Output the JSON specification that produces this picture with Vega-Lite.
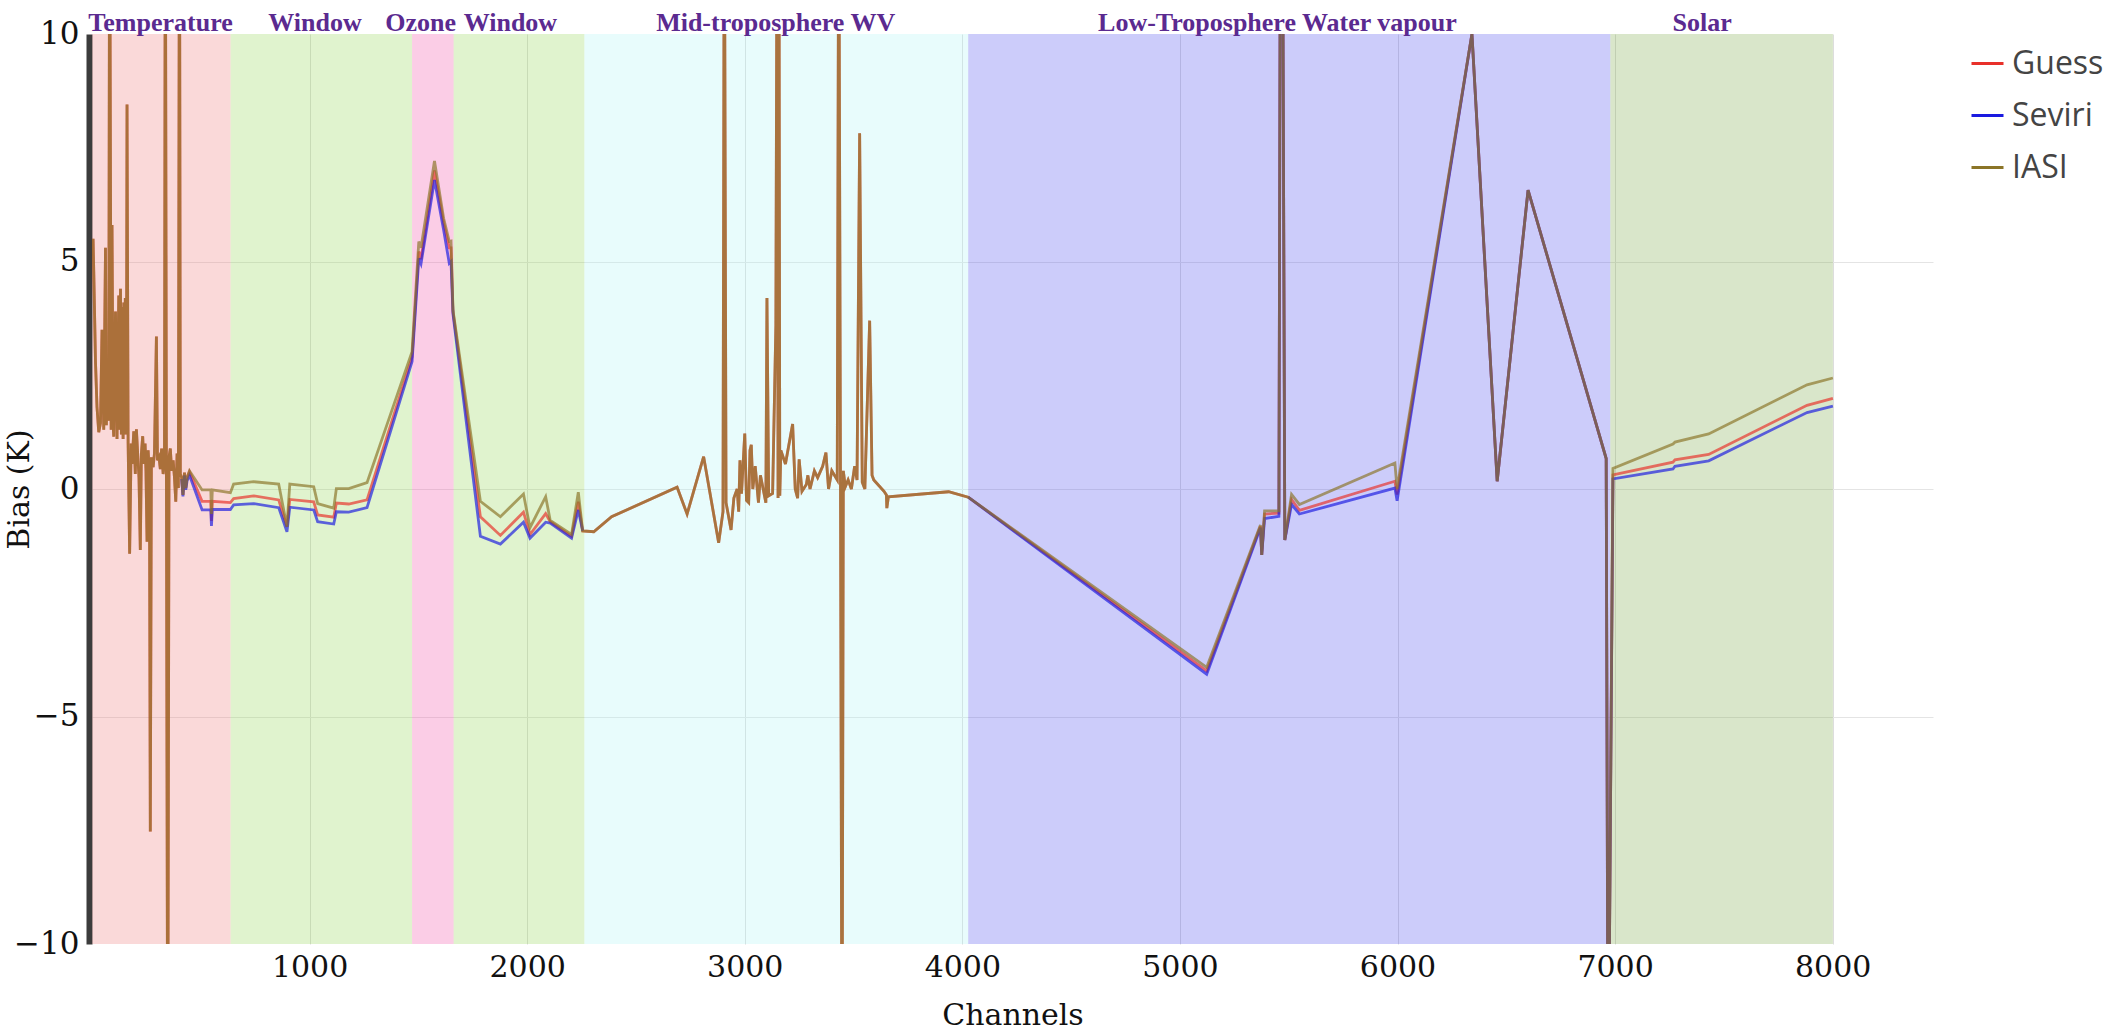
{
  "$schema": "https://vega.github.io/schema/vega-lite/v6.json",
  "autosize": {"type": "none"},
  "padding": {"left": 92, "top": 34, "right": 175, "bottom": 87},
  "width": 1841,
  "height": 910,
  "background": "white",
  "datasets": {
    "regions": [
      {"region": "Temperature", "start": 1, "end": 637},
      {"region": "Window", "start": 637, "end": 1471},
      {"region": "Ozone", "start": 1471, "end": 1662},
      {"region": "Window2", "start": 1662, "end": 2263},
      {"region": "Mid", "start": 2263, "end": 4027},
      {"region": "Low", "start": 4027, "end": 6978},
      {"region": "Solar", "start": 6978, "end": 8001}
    ],
    "labels": [
      {"c": 315, "label": "Temperature"},
      {"c": 1025, "label": "Window"},
      {"c": 1510, "label": "Ozone"},
      {"c": 1923, "label": "Window"},
      {"c": 3142, "label": "Mid-troposphere WV"},
      {"c": 5448, "label": "Low-Troposphere Water vapour"},
      {"c": 7400, "label": "Solar"}
    ],
    "bias": [
      {"c": 5, "Guess": 5.5, "Seviri": null, "IASI": 5.5},
      {"c": 8, "Guess": 4.8, "Seviri": null, "IASI": 4.8},
      {"c": 16, "Guess": 2.8, "Seviri": null, "IASI": 2.8},
      {"c": 23, "Guess": 1.8, "Seviri": null, "IASI": 1.8},
      {"c": 31, "Guess": 1.25, "Seviri": null, "IASI": 1.25},
      {"c": 39, "Guess": 1.45, "Seviri": null, "IASI": 1.45},
      {"c": 46, "Guess": 3.5, "Seviri": null, "IASI": 3.5},
      {"c": 54, "Guess": 1.3, "Seviri": null, "IASI": 1.3},
      {"c": 62, "Guess": 5.3, "Seviri": null, "IASI": 5.3},
      {"c": 66, "Guess": 1.4, "Seviri": null, "IASI": 1.4},
      {"c": 72, "Guess": 2.7, "Seviri": null, "IASI": 2.7},
      {"c": 77, "Guess": 1.5, "Seviri": null, "IASI": 1.5},
      {"c": 81, "Guess": 14, "Seviri": null, "IASI": 14},
      {"c": 88, "Guess": 1.3, "Seviri": null, "IASI": 1.3},
      {"c": 92, "Guess": 5.8, "Seviri": null, "IASI": 5.8},
      {"c": 97, "Guess": 1.4, "Seviri": null, "IASI": 1.4},
      {"c": 100, "Guess": 1.15, "Seviri": null, "IASI": 1.15},
      {"c": 108, "Guess": 3.9, "Seviri": null, "IASI": 3.9},
      {"c": 115, "Guess": 1.1, "Seviri": null, "IASI": 1.1},
      {"c": 123, "Guess": 4.25, "Seviri": null, "IASI": 4.25},
      {"c": 128, "Guess": 1.3, "Seviri": null, "IASI": 1.3},
      {"c": 131, "Guess": 4.4, "Seviri": null, "IASI": 4.4},
      {"c": 135, "Guess": 1.2, "Seviri": null, "IASI": 1.2},
      {"c": 138, "Guess": 4.0, "Seviri": null, "IASI": 4.0},
      {"c": 143, "Guess": 1.1, "Seviri": null, "IASI": 1.1},
      {"c": 146, "Guess": 4.1, "Seviri": null, "IASI": 4.1},
      {"c": 150, "Guess": 1.2, "Seviri": null, "IASI": 1.2},
      {"c": 153, "Guess": 4.2, "Seviri": null, "IASI": 4.2},
      {"c": 158, "Guess": 1.2, "Seviri": null, "IASI": 1.2},
      {"c": 161, "Guess": 8.45, "Seviri": null, "IASI": 8.45},
      {"c": 166, "Guess": 1.0, "Seviri": null, "IASI": 1.0},
      {"c": 173, "Guess": -1.42, "Seviri": null, "IASI": -1.42},
      {"c": 180, "Guess": 1.0, "Seviri": null, "IASI": 1.0},
      {"c": 184, "Guess": 0.55, "Seviri": null, "IASI": 0.55},
      {"c": 192, "Guess": 1.27, "Seviri": null, "IASI": 1.27},
      {"c": 199, "Guess": 0.33, "Seviri": null, "IASI": 0.33},
      {"c": 204, "Guess": 1.31, "Seviri": null, "IASI": 1.31},
      {"c": 210, "Guess": 0.78, "Seviri": null, "IASI": 0.78},
      {"c": 216, "Guess": 0.25, "Seviri": null, "IASI": 0.25},
      {"c": 222, "Guess": -1.34, "Seviri": null, "IASI": -1.34},
      {"c": 227, "Guess": 0.78, "Seviri": null, "IASI": 0.78},
      {"c": 233, "Guess": 1.16, "Seviri": null, "IASI": 1.16},
      {"c": 238, "Guess": 0.55, "Seviri": null, "IASI": 0.55},
      {"c": 244, "Guess": 1.0, "Seviri": null, "IASI": 1.0},
      {"c": 248, "Guess": 0.4, "Seviri": null, "IASI": 0.4},
      {"c": 253, "Guess": -1.16, "Seviri": null, "IASI": -1.16},
      {"c": 258, "Guess": 0.85, "Seviri": null, "IASI": 0.85},
      {"c": 264, "Guess": 0.33, "Seviri": null, "IASI": 0.33},
      {"c": 268, "Guess": -7.53, "Seviri": null, "IASI": -7.53},
      {"c": 273, "Guess": 0.7, "Seviri": null, "IASI": 0.7},
      {"c": 281, "Guess": 0.48, "Seviri": null, "IASI": 0.48},
      {"c": 287, "Guess": 0.78, "Seviri": null, "IASI": 0.78},
      {"c": 296, "Guess": 3.35, "Seviri": null, "IASI": 3.35},
      {"c": 301, "Guess": 0.63, "Seviri": null, "IASI": 0.63},
      {"c": 308, "Guess": 0.7, "Seviri": null, "IASI": 0.7},
      {"c": 314, "Guess": 0.44, "Seviri": null, "IASI": 0.44},
      {"c": 320, "Guess": 0.89, "Seviri": null, "IASI": 0.89},
      {"c": 327, "Guess": 0.33, "Seviri": null, "IASI": 0.33},
      {"c": 333, "Guess": 0.59, "Seviri": null, "IASI": 0.59},
      {"c": 337, "Guess": 14, "Seviri": null, "IASI": 14},
      {"c": 342, "Guess": 0.4, "Seviri": null, "IASI": 0.4},
      {"c": 348, "Guess": -14, "Seviri": null, "IASI": -14},
      {"c": 354, "Guess": 0.7, "Seviri": null, "IASI": 0.7},
      {"c": 360, "Guess": 0.89, "Seviri": null, "IASI": 0.89},
      {"c": 366, "Guess": 0.4, "Seviri": null, "IASI": 0.4},
      {"c": 373, "Guess": 0.63, "Seviri": null, "IASI": 0.63},
      {"c": 379, "Guess": 0.25, "Seviri": null, "IASI": 0.25},
      {"c": 385, "Guess": -0.28, "Seviri": null, "IASI": -0.28},
      {"c": 391, "Guess": 0.78, "Seviri": null, "IASI": 0.78},
      {"c": 397, "Guess": 0.02, "Seviri": null, "IASI": 0.02},
      {"c": 402, "Guess": 14, "Seviri": null, "IASI": 14},
      {"c": 406, "Guess": 0.33, "Seviri": null, "IASI": 0.33},
      {"c": 412, "Guess": 0.25, "Seviri": 0.22, "IASI": 0.25},
      {"c": 418, "Guess": -0.13, "Seviri": -0.16, "IASI": -0.13},
      {"c": 425, "Guess": 0.36, "Seviri": 0.3, "IASI": 0.36},
      {"c": 431, "Guess": 0.02, "Seviri": -0.02, "IASI": 0.02},
      {"c": 437, "Guess": 0.25, "Seviri": 0.18, "IASI": 0.25},
      {"c": 448, "Guess": 0.38, "Seviri": 0.3, "IASI": 0.40},
      {"c": 506, "Guess": -0.27, "Seviri": -0.46, "IASI": -0.02},
      {"c": 546, "Guess": -0.27, "Seviri": -0.46, "IASI": -0.02},
      {"c": 549, "Guess": -0.7, "Seviri": -0.81, "IASI": -0.55},
      {"c": 553, "Guess": -0.27, "Seviri": -0.45, "IASI": -0.02},
      {"c": 636, "Guess": -0.30, "Seviri": -0.45, "IASI": -0.08},
      {"c": 651, "Guess": -0.21, "Seviri": -0.35, "IASI": 0.11},
      {"c": 743, "Guess": -0.15, "Seviri": -0.32, "IASI": 0.16},
      {"c": 858, "Guess": -0.24, "Seviri": -0.41, "IASI": 0.11},
      {"c": 896, "Guess": -0.83, "Seviri": -0.94, "IASI": -0.83},
      {"c": 909, "Guess": -0.23, "Seviri": -0.40, "IASI": 0.11},
      {"c": 1019, "Guess": -0.28, "Seviri": -0.46, "IASI": 0.05},
      {"c": 1037, "Guess": -0.57, "Seviri": -0.72, "IASI": -0.32},
      {"c": 1111, "Guess": -0.62, "Seviri": -0.77, "IASI": -0.42},
      {"c": 1123, "Guess": -0.31, "Seviri": -0.50, "IASI": 0.01},
      {"c": 1180, "Guess": -0.33, "Seviri": -0.51, "IASI": 0.01},
      {"c": 1264, "Guess": -0.24, "Seviri": -0.41, "IASI": 0.14},
      {"c": 1471, "Guess": 2.9, "Seviri": 2.8, "IASI": 3.02},
      {"c": 1502, "Guess": 5.22, "Seviri": 5.07, "IASI": 5.44},
      {"c": 1512, "Guess": 5.05, "Seviri": 4.95, "IASI": 5.3},
      {"c": 1574, "Guess": 7.0, "Seviri": 6.79, "IASI": 7.21},
      {"c": 1616, "Guess": 5.85, "Seviri": 5.69, "IASI": 5.95},
      {"c": 1642, "Guess": 5.3, "Seviri": 4.96, "IASI": 5.44},
      {"c": 1650, "Guess": 5.3, "Seviri": 5.0, "IASI": 5.45},
      {"c": 1659, "Guess": 3.9, "Seviri": 3.85, "IASI": 3.93},
      {"c": 1785, "Guess": -0.61, "Seviri": -1.04, "IASI": -0.27},
      {"c": 1877, "Guess": -1.02, "Seviri": -1.21, "IASI": -0.61},
      {"c": 1983, "Guess": -0.51, "Seviri": -0.73, "IASI": -0.11},
      {"c": 2013, "Guess": -1.0, "Seviri": -1.08, "IASI": -0.85},
      {"c": 2085, "Guess": -0.54, "Seviri": -0.73, "IASI": -0.17},
      {"c": 2106, "Guess": -0.72, "Seviri": -0.75, "IASI": -0.69},
      {"c": 2204, "Guess": -1.04, "Seviri": -1.08, "IASI": -1.0},
      {"c": 2235, "Guess": -0.28, "Seviri": -0.46, "IASI": -0.07},
      {"c": 2255, "Guess": -0.92, "Seviri": -0.92, "IASI": -0.92},
      {"c": 2306, "Guess": -0.94, "Seviri": null, "IASI": -0.94},
      {"c": 2388, "Guess": -0.61, "Seviri": null, "IASI": -0.61},
      {"c": 2689, "Guess": 0.04, "Seviri": null, "IASI": 0.04},
      {"c": 2735, "Guess": -0.55, "Seviri": null, "IASI": -0.55},
      {"c": 2811, "Guess": 0.71, "Seviri": null, "IASI": 0.71},
      {"c": 2880, "Guess": -1.18, "Seviri": null, "IASI": -1.18},
      {"c": 2900, "Guess": -0.5, "Seviri": null, "IASI": -0.5},
      {"c": 2906, "Guess": 14, "Seviri": null, "IASI": 14},
      {"c": 2914, "Guess": -0.3, "Seviri": null, "IASI": -0.3},
      {"c": 2937, "Guess": -0.9, "Seviri": null, "IASI": -0.9},
      {"c": 2950, "Guess": -0.2, "Seviri": null, "IASI": -0.2},
      {"c": 2965, "Guess": 0.0, "Seviri": null, "IASI": 0.0},
      {"c": 2972, "Guess": -0.5, "Seviri": null, "IASI": -0.5},
      {"c": 2978, "Guess": 0.63, "Seviri": null, "IASI": 0.63},
      {"c": 2985, "Guess": -0.1, "Seviri": null, "IASI": -0.1},
      {"c": 3000, "Guess": 1.22, "Seviri": null, "IASI": 1.22},
      {"c": 3008, "Guess": -0.25, "Seviri": null, "IASI": -0.25},
      {"c": 3018, "Guess": -0.3, "Seviri": null, "IASI": -0.3},
      {"c": 3024, "Guess": 0.85, "Seviri": null, "IASI": 0.85},
      {"c": 3030, "Guess": 0.97, "Seviri": null, "IASI": 0.97},
      {"c": 3037, "Guess": 0.0, "Seviri": null, "IASI": 0.0},
      {"c": 3048, "Guess": 0.5, "Seviri": null, "IASI": 0.5},
      {"c": 3063, "Guess": -0.3, "Seviri": null, "IASI": -0.3},
      {"c": 3072, "Guess": 0.3, "Seviri": null, "IASI": 0.3},
      {"c": 3097, "Guess": -0.3, "Seviri": null, "IASI": -0.3},
      {"c": 3102, "Guess": 4.2, "Seviri": null, "IASI": 4.2},
      {"c": 3110, "Guess": -0.15, "Seviri": null, "IASI": -0.15},
      {"c": 3128, "Guess": -0.1, "Seviri": null, "IASI": -0.1},
      {"c": 3143, "Guess": 3.6, "Seviri": null, "IASI": 3.6},
      {"c": 3149, "Guess": 14, "Seviri": null, "IASI": 14},
      {"c": 3153, "Guess": -0.2, "Seviri": null, "IASI": -0.2},
      {"c": 3157, "Guess": 14, "Seviri": null, "IASI": 14},
      {"c": 3161, "Guess": -0.15, "Seviri": null, "IASI": -0.15},
      {"c": 3166, "Guess": 0.85, "Seviri": null, "IASI": 0.85},
      {"c": 3187, "Guess": 0.55, "Seviri": null, "IASI": 0.55},
      {"c": 3220, "Guess": 1.43, "Seviri": null, "IASI": 1.43},
      {"c": 3232, "Guess": 0.0, "Seviri": null, "IASI": 0.0},
      {"c": 3243, "Guess": -0.2, "Seviri": null, "IASI": -0.2},
      {"c": 3250, "Guess": 0.65, "Seviri": null, "IASI": 0.65},
      {"c": 3263, "Guess": -0.05, "Seviri": null, "IASI": -0.05},
      {"c": 3283, "Guess": 0.1, "Seviri": null, "IASI": 0.1},
      {"c": 3290, "Guess": 0.3, "Seviri": null, "IASI": 0.3},
      {"c": 3300, "Guess": 0.0, "Seviri": null, "IASI": 0.0},
      {"c": 3320, "Guess": 0.4, "Seviri": null, "IASI": 0.4},
      {"c": 3335, "Guess": 0.25, "Seviri": null, "IASI": 0.25},
      {"c": 3358, "Guess": 0.5, "Seviri": null, "IASI": 0.5},
      {"c": 3373, "Guess": 0.8, "Seviri": null, "IASI": 0.8},
      {"c": 3385, "Guess": 0.0, "Seviri": null, "IASI": 0.0},
      {"c": 3400, "Guess": 0.4, "Seviri": null, "IASI": 0.4},
      {"c": 3425, "Guess": 0.2, "Seviri": null, "IASI": 0.2},
      {"c": 3432, "Guess": 14, "Seviri": null, "IASI": 14},
      {"c": 3440, "Guess": 0.1, "Seviri": null, "IASI": 0.1},
      {"c": 3447, "Guess": -14, "Seviri": null, "IASI": -14},
      {"c": 3453, "Guess": 0.4, "Seviri": null, "IASI": 0.4},
      {"c": 3462, "Guess": 0.05, "Seviri": null, "IASI": 0.05},
      {"c": 3475, "Guess": 0.2, "Seviri": null, "IASI": 0.2},
      {"c": 3490, "Guess": 0.0, "Seviri": null, "IASI": 0.0},
      {"c": 3505, "Guess": 0.5, "Seviri": null, "IASI": 0.5},
      {"c": 3516, "Guess": 0.2, "Seviri": null, "IASI": 0.2},
      {"c": 3528, "Guess": 7.82, "Seviri": null, "IASI": 7.82},
      {"c": 3540, "Guess": 0.15, "Seviri": null, "IASI": 0.15},
      {"c": 3552, "Guess": 0.0, "Seviri": null, "IASI": 0.0},
      {"c": 3574, "Guess": 3.7, "Seviri": null, "IASI": 3.7},
      {"c": 3585, "Guess": 0.3, "Seviri": null, "IASI": 0.3},
      {"c": 3593, "Guess": 0.2, "Seviri": null, "IASI": 0.2},
      {"c": 3640, "Guess": -0.05, "Seviri": null, "IASI": -0.05},
      {"c": 3651, "Guess": -0.13, "Seviri": null, "IASI": -0.13},
      {"c": 3653, "Guess": -0.42, "Seviri": null, "IASI": -0.42},
      {"c": 3660, "Guess": -0.17, "Seviri": null, "IASI": -0.17},
      {"c": 3937, "Guess": -0.06, "Seviri": null, "IASI": -0.06},
      {"c": 4027, "Guess": -0.18, "Seviri": -0.18, "IASI": -0.18},
      {"c": 5123, "Guess": -4.0, "Seviri": -4.07, "IASI": -3.92},
      {"c": 5370, "Guess": -0.82, "Seviri": -0.85, "IASI": -0.79},
      {"c": 5376, "Guess": -1.45, "Seviri": -1.45, "IASI": -1.45},
      {"c": 5389, "Guess": -0.55, "Seviri": -0.65, "IASI": -0.48},
      {"c": 5455, "Guess": -0.53, "Seviri": -0.6, "IASI": -0.48},
      {"c": 5462, "Guess": 14, "Seviri": 14, "IASI": 14},
      {"c": 5471, "Guess": 14, "Seviri": 14, "IASI": 14},
      {"c": 5482, "Guess": -1.12, "Seviri": -1.12, "IASI": -1.12},
      {"c": 5513, "Guess": -0.23, "Seviri": -0.34, "IASI": -0.12},
      {"c": 5549, "Guess": -0.47, "Seviri": -0.55, "IASI": -0.34},
      {"c": 5988, "Guess": 0.17, "Seviri": 0.02, "IASI": 0.57},
      {"c": 5998, "Guess": -0.12, "Seviri": -0.26, "IASI": 0.0},
      {"c": 6342, "Guess": 10.0, "Seviri": 10.0, "IASI": 10.0},
      {"c": 6458, "Guess": 0.17, "Seviri": 0.17, "IASI": 0.17},
      {"c": 6600, "Guess": 6.57, "Seviri": 6.57, "IASI": 6.57},
      {"c": 6959, "Guess": 0.67, "Seviri": 0.67, "IASI": 0.67},
      {"c": 6968, "Guess": -14, "Seviri": -14, "IASI": -14},
      {"c": 6990, "Guess": 0.31, "Seviri": 0.22, "IASI": 0.45},
      {"c": 7266, "Guess": 0.59, "Seviri": 0.44, "IASI": 0.99},
      {"c": 7275, "Guess": 0.64, "Seviri": 0.50, "IASI": 1.03},
      {"c": 7430, "Guess": 0.76, "Seviri": 0.62, "IASI": 1.21},
      {"c": 7882, "Guess": 1.84, "Seviri": 1.68, "IASI": 2.29},
      {"c": 8001, "Guess": 1.99, "Seviri": 1.82, "IASI": 2.44}
    ]
  },
  "config": {
    "view": {"stroke": null},
    "axis": {"labelFont": "DejaVu Serif", "titleFont": "DejaVu Serif", "labelColor": "#111", "titleColor": "#111", "titleFontWeight": "normal", "ticks": false}
  },
  "layer": [
    {
      "data": {"name": "regions"},
      "mark": {"type": "rect", "fillOpacity": 0.3},
      "encoding": {
        "x": {"field": "start", "type": "quantitative", "scale": {"domain": [0, 8461], "nice": false, "zero": false}, "axis": {"values": [1000, 2000, 3000, 4000, 5000, 6000, 7000, 8000], "format": "d", "title": "Channels", "labelFontSize": 30, "titleFontSize": 30, "labelPadding": 8, "titlePadding": 18, "domain": false, "grid": true, "gridColor": "#dddddd", "labelFlush": false}},
        "x2": {"field": "end"},
        "fill": {"field": "region", "type": "nominal", "legend": null, "scale": {"domain": ["Temperature", "Window", "Ozone", "Window2", "Mid", "Low", "Solar"], "range": ["#ee8080", "#98d85c", "#f258ac", "#98d85c", "#b2f5f5", "#5555ee", "#80ac4e"]}}
      }
    },
    {
      "mark": {"type": "rule", "color": "#3a3a3a", "strokeWidth": 1.3},
      "encoding": {"y": {"datum": 0, "type": "quantitative"}}
    },
    {
      "data": {"name": "bias"},
      "transform": [{"fold": ["Guess", "Seviri", "IASI"], "as": ["series", "bias"]}],
      "layer": [
        {
          "transform": [{"filter": "datum.series == 'Guess'"}],
          "mark": {"type": "line", "clip": true, "strokeWidth": 2.8, "opacity": 0.68}
        },
        {
          "transform": [{"filter": "datum.series == 'Seviri'"}],
          "mark": {"type": "line", "clip": true, "strokeWidth": 2.8, "opacity": 0.68}
        },
        {
          "transform": [{"filter": "datum.series == 'IASI'"}],
          "mark": {"type": "line", "clip": true, "strokeWidth": 2.8, "opacity": 0.68}
        }
      ],
      "encoding": {
        "x": {"field": "c", "type": "quantitative"},
        "y": {"field": "bias", "type": "quantitative", "scale": {"domain": [-10, 10], "nice": false}, "axis": {"values": [-10, -5, 0, 5, 10], "title": "Bias (K)", "labelFontSize": 31, "titleFontSize": 30, "offset": 3, "domainColor": "#3c3c3c", "domainWidth": 6, "labelPadding": 10, "titleX": -70, "titleY": 455, "titleAngle": -90, "titleAlign": "center", "titleBaseline": "middle", "grid": true, "gridColor": "#e4e4e4", "gridOpacity": {"condition": {"test": "abs(datum.value) == 10", "value": 0}, "value": 1}}},
        "color": {"field": "series", "type": "nominal", "scale": {"domain": ["Guess", "Seviri", "IASI"], "range": ["#e8302a", "#1a1ae0", "#8b7528"]}, "legend": {"title": null, "orient": "none", "legendX": 1878, "legendY": 12, "symbolType": "stroke", "symbolSize": 1024, "symbolStrokeWidth": 3, "symbolOpacity": 1, "labelFont": "Open Sans", "labelFontSize": 32, "labelColor": "#444", "labelOffset": 7, "rowPadding": 18, "padding": 0}},
        "order": {"field": "c", "type": "quantitative"}
      }
    },
    {
      "data": {"name": "labels"},
      "mark": {"type": "text", "font": "Liberation Serif", "fontWeight": "bold", "fontSize": 26, "color": "#5b2a90", "baseline": "alphabetic", "align": "center", "dy": -3},
      "encoding": {
        "x": {"field": "c", "type": "quantitative"},
        "y": {"datum": 10, "type": "quantitative"},
        "text": {"field": "label"}
      }
    }
  ]
}
